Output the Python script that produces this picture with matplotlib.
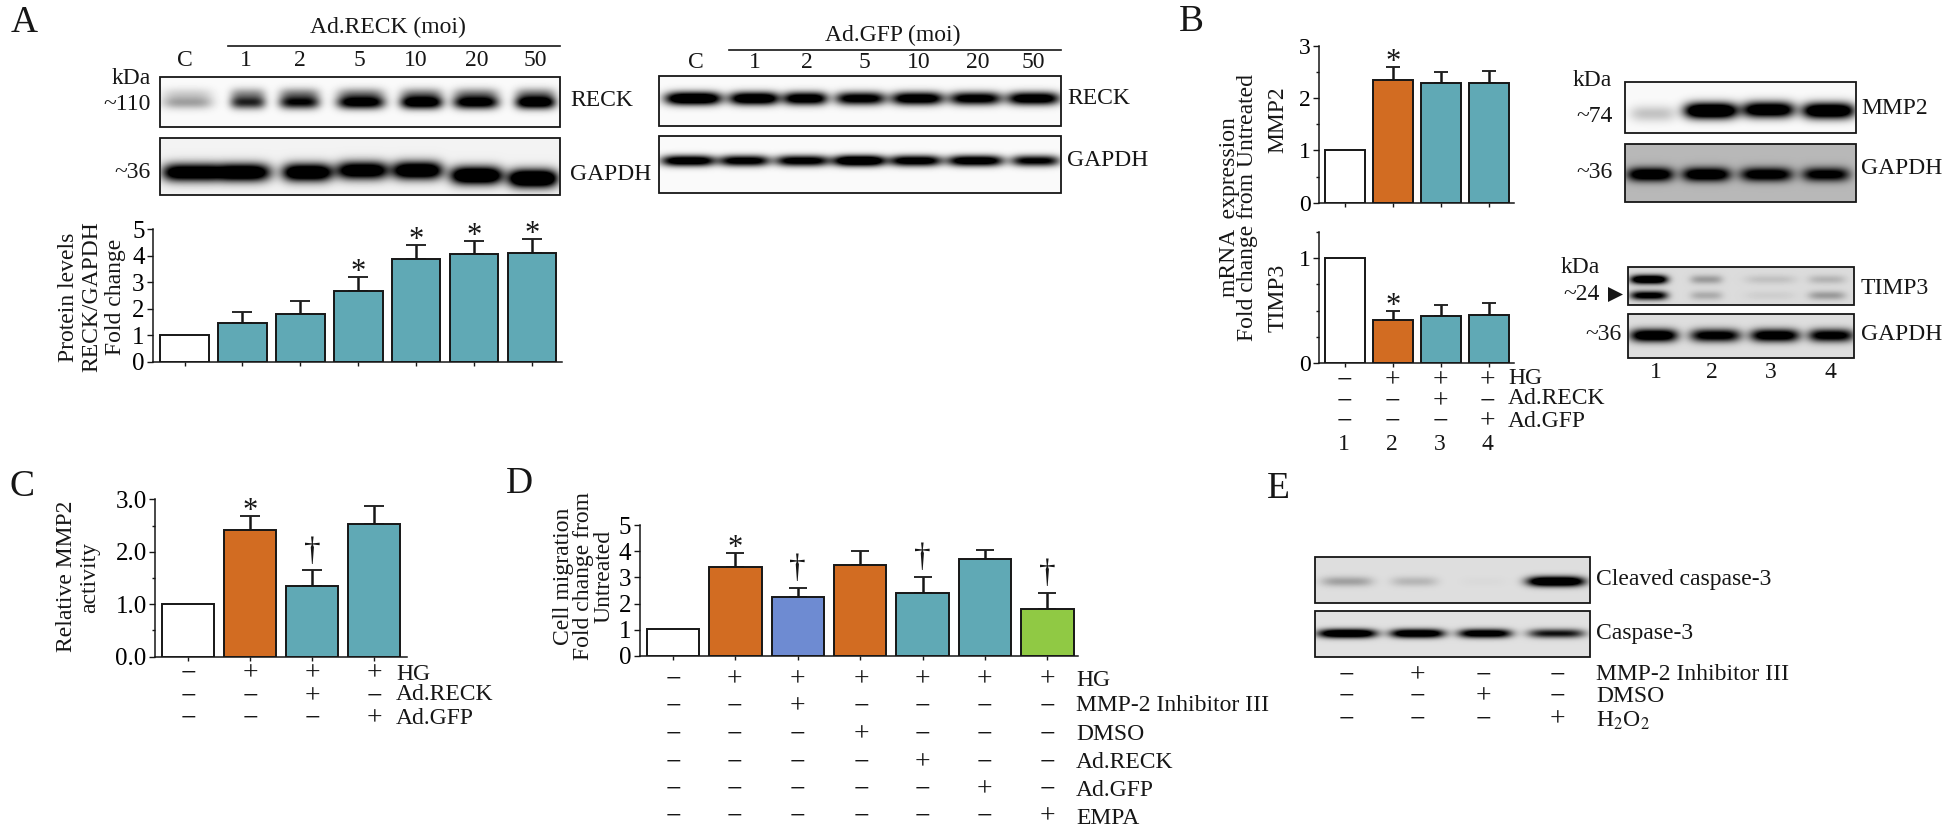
import numpy as np
import matplotlib
matplotlib.use("Agg")
import matplotlib.pyplot as plt
from matplotlib.patches import Rectangle, Polygon
from matplotlib.ticker import MultipleLocator, FormatStrFormatter

plt.rcParams['font.family'] = ['Liberation Serif', 'DejaVu Serif']
plt.rcParams['mathtext.fontset'] = 'stix'

W, H = 1950, 835
TEAL, ORANGE, BLUE, GREEN, WHITE = '#60A9B5', '#D26C22', '#6E8BD2', '#90C944', '#FFFFFF'
INK = '#161616'

# ---------- data ----------
a_vals = [1.0, 1.47, 1.78, 2.66, 3.88, 4.07, 4.08]
a_errs = [0, 0.40, 0.52, 0.53, 0.53, 0.48, 0.55]
a_cols = [WHITE] + [TEAL] * 6
b1_vals = [1.0, 2.35, 2.30, 2.29]
b1_errs = [0, 0.24, 0.21, 0.24]
b2_vals = [1.0, 0.41, 0.445, 0.455]
b2_errs = [0, 0.09, 0.105, 0.12]
bc_cols = [WHITE, ORANGE, TEAL, TEAL]
c_vals = [1.01, 2.42, 1.35, 2.52]
c_errs = [0, 0.26, 0.30, 0.35]
d_vals = [1.03, 3.40, 2.24, 3.47, 2.39, 3.70, 1.81]
d_errs = [0, 0.53, 0.36, 0.53, 0.61, 0.35, 0.58]
d_cols = [WHITE, ORANGE, BLUE, ORANGE, TEAL, TEAL, GREEN]

moi_labels = ['C', '1', '2', '5', '10', '20', '50']
b_rows = {'HG': '-+++', 'Ad.RECK': '--+-', 'Ad.GFP': '---+'}
c_rows = {'HG': '-+++', 'Ad.RECK': '--+-', 'Ad.GFP': '---+'}
d_rows = {'HG': '-++++++', 'MMP-2 Inhibitor III': '--+----', 'DMSO': '---+---',
          'Ad.RECK': '----+--', 'Ad.GFP': '-----+-', 'EMPA': '------+'}
e_rows = {'MMP-2 Inhibitor III': '-+--', 'DMSO': '--+-', r'H$_{2}$O$_{2}$': '---+'}

# band darkness per lane, read from the blots
a_reck = [0.35, 0.85, 1.0, 1.2, 1.3, 1.2, 1.3]
a_gapdh = [1.4, 1.5, 1.5, 1.4, 1.5, 1.6, 1.7]
g_reck = [1.5, 1.4, 1.3, 1.2, 1.3, 1.2, 1.3]
g_gapdh = [1.3, 1.2, 1.2, 1.5, 1.25, 1.3, 1.1]
b_mmp2 = [0.22, 1.6, 1.4, 1.5]
b_gapdh1 = [1.4, 1.4, 1.3, 1.2]
t_upper = [1.5, 0.30, 0.12, 0.18]
t_lower = [1.2, 0.22, 0.06, 0.30]
t_gapdh = [1.4, 1.2, 1.3, 1.2]
e_cleaved = [0.28, 0.18, 0.02, 1.6]
e_casp = [1.5, 1.4, 1.3, 0.95]


def px_axes(l, r, t, b):
    ax = fig.add_axes([l / W, 1 - b / H, (r - l) / W, (b - t) / H])
    ax.patch.set_alpha(0)
    return ax


fig = plt.figure(figsize=(19.5, 8.35), dpi=100, facecolor='white')


def barpanel(rect, c0, step, vals, errs, cols, ymax, major, minor, width, fs=18,
             fmt='%d', lw=1.4, cap=7):
    l, r, t, b = rect
    ax = px_axes(l, r, t, b)
    ax.set_xlim((l - c0) / step, (r - c0) / step)
    ax.set_ylim(0, ymax)
    x = np.arange(len(vals))
    ax.bar(x, vals, width=width, color=cols, edgecolor=INK, linewidth=lw, zorder=3)
    for xi, v, e in zip(x, vals, errs):
        if e > 0:
            ax.errorbar(xi, v, yerr=[[0], [e]], color=INK, capsize=cap, capthick=1.3,
                        elinewidth=1.8, zorder=2)
    for s in ('top', 'right'):
        ax.spines[s].set_visible(False)
    for s in ('left', 'bottom'):
        ax.spines[s].set_linewidth(1.1)
        ax.spines[s].set_color(INK)
    ax.set_xticks(x)
    ax.set_xticklabels([])
    ax.yaxis.set_major_locator(MultipleLocator(major))
    if minor:
        ax.yaxis.set_minor_locator(MultipleLocator(minor))
    ax.yaxis.set_major_formatter(FormatStrFormatter(fmt))
    ax.tick_params(axis='x', length=3, width=1, color=INK)
    ax.tick_params(axis='y', which='major', length=4, width=1, pad=2, labelsize=fs, color=INK)
    ax.tick_params(axis='y', which='minor', length=2.5, width=1, color=INK)
    return ax


def marks(ax, vals, errs, spec, ast=22, dag=24, dag_dy=10):
    for i, ch in spec.items():
        top = vals[i] + errs[i]
        ax.annotate(ch, (i, top), xytext=(0, -3 if ch == '*' else dag_dy),
                    textcoords='offset pixels', ha='center', va='baseline',
                    fontsize=ast if ch == '*' else dag, color=INK,
                    annotation_clip=False, zorder=5)


ax = barpanel((153, 562, 229, 361.7), 184.5, 57.9, a_vals, a_errs, a_cols, 5, 1, None, 0.84, cap=7)
marks(ax, a_vals, a_errs, {3: '*', 4: '*', 5: '*', 6: '*'})

ax = barpanel((1319, 1514, 46, 202.7), 1345, 48.0, b1_vals, b1_errs, bc_cols, 3, 1, 0.5, 0.85, fs=17, cap=5)
marks(ax, b1_vals, b1_errs, {1: '*'})

ax = barpanel((1319, 1514, 231.7, 363.3), 1345, 48.0, b2_vals, b2_errs, bc_cols, 1.25, 1, 0.25, 0.85, fs=17, cap=5)
marks(ax, b2_vals, b2_errs, {1: '*'})

ax = barpanel((155, 407, 499.3, 656.7), 188, 62.0, c_vals, c_errs, bc_cols, 3, 1, 0.5, 0.85, fs=18, fmt='%.1f')
marks(ax, c_vals, c_errs, {1: '*', 2: '\u2020'})

ax = barpanel((639.5, 1078, 525, 656), 673, 62.4, d_vals, d_errs, d_cols, 5, 1, None, 0.84, fs=18, cap=6.5)
marks(ax, d_vals, d_errs, {1: '*', 2: '\u2020', 4: '\u2020', 6: '\u2020'}, dag=24, dag_dy=11)

# ---------- canvas in figure pixels for blots and annotations ----------
cv = fig.add_axes([0, 0, 1, 1], zorder=10)
cv.set_xlim(0, W)
cv.set_ylim(H, 0)
cv.axis('off')
cv.patch.set_alpha(0)


def T(x, y, s, fs=17, ha='left', va='center', **kw):
    cv.text(x, y, s, fontsize=fs, ha=ha, va=va, color=INK, **kw)


def blot(box, lanes, dark, yc, sy, bg=0.98, smear=0.0, ycs=None, extra=None):
    x0, x1, y0, y1 = box
    X, Y = np.meshgrid(np.arange(x0, x1, 1.0), np.arange(y0, y1, 1.0))
    d = np.zeros_like(X)
    layers = [(dark, yc, ycs)]
    if extra is not None:
        layers.append((extra[0], extra[1], None))
    for dk, yc0, yl in layers:
        for k, ((a, b), v) in enumerate(zip(lanes, dk)):
            c, hw = (a + b) / 2, (b - a) / 2
            yy = yc0 if yl is None else yl[k]
            px = np.exp(-np.abs((X - c) / hw) ** 4)
            d += v * px * np.exp(-((Y - yy) / sy) ** 2)
            if smear:
                d += smear * min(v, 1) * px * np.exp(-((Y - yy + 9) / 6) ** 2)
    img = bg * (1 - np.clip(d, 0, 1))
    cv.imshow(img, extent=(x0, x1, y1, y0), cmap='gray', vmin=0, vmax=1, aspect='auto',
              interpolation='bilinear', zorder=1)
    cv.add_patch(Rectangle((x0, y0), x1 - x0, y1 - y0, fill=False, ec=INK, lw=1.3, zorder=2))


lanes_a1 = [(162, 212), (230, 265), (279, 319), (337, 384), (400, 442), (453, 498), (515, 555)]
lanes_a2 = [(162, 214), (210, 270), (282, 332), (336, 388), (392, 442), (450, 502), (508, 557)]
lanes_g1 = [(665, 721), (729, 779), (783, 827), (835, 885), (891, 943), (949, 1001), (1007, 1059)]
lanes_g2 = [(661, 715), (719, 769), (775, 829), (833, 885), (889, 941), (947, 1003), (1011, 1059)]
blot((160, 560, 77, 127), lanes_a1, a_reck, 102, 6.5, smear=0.4)
blot((160, 560, 138, 195), lanes_a2, a_gapdh, 172, 9,
     ycs=[172, 172, 172, 170, 170, 175, 178], bg=0.95)
blot((659, 1061, 76, 126), lanes_g1, g_reck, 98, 6.5)
blot((659, 1061, 135.7, 192.7), lanes_g2, g_gapdh, 160, 5.5)
lanes_m = [(1630, 1675), (1684, 1737), (1742, 1794), (1802, 1854)]
lanes_bg = [(1627, 1673), (1682, 1730), (1740, 1792), (1802, 1849)]
lanes_t = [(1630, 1667), (1690, 1722), (1745, 1795), (1808, 1845)]
lanes_tg = [(1630, 1677), (1690, 1740), (1750, 1799), (1808, 1853)]
blot((1625, 1856, 81.7, 133), lanes_m, b_mmp2, 111, 8, ycs=[114, 111, 110, 111])
blot((1625, 1856, 144, 201.7), lanes_bg, b_gapdh1, 174, 7, bg=0.72)
blot((1628, 1854, 267, 305), lanes_t, t_upper, 279, 4.5, bg=0.86, extra=(t_lower, 295))
blot((1628, 1854, 314, 358), lanes_tg, t_gapdh, 335, 6.5, bg=0.87)
lanes_e = [(1321, 1372), (1391, 1437), (1460, 1506), (1527, 1584)]
lanes_e2 = [(1318, 1376), (1390, 1444), (1458, 1511), (1528, 1584)]
blot((1315, 1590, 557, 603), lanes_e, e_cleaved, 581, 5, bg=0.87)
blot((1315, 1590, 611, 656.7), lanes_e2, e_casp, 633, 4.5, bg=0.88)
cv.add_patch(Polygon([[1608, 287], [1608, 302], [1623, 294.5]], closed=True, fc=INK, ec='none', zorder=4))

# panel letters
for x, y, s in [(24, 22.5, 'A'), (1191, 22, 'B'), (22, 487, 'C'), (519, 484, 'D'), (1278, 489, 'E')]:
    T(x, y, s, fs=27, ha='center')

# panel A annotations
T(388, 27, 'Ad.RECK (moi)', ha='center')
cv.plot([228, 560], [45.7, 45.7], color=INK, lw=1.2)
for x, s in zip([185, 245.5, 299.5, 359, 416, 477, 535], moi_labels):
    T(x, 60, s, ha='center')
T(151, 78, 'kDa', ha='right')
T(151, 104, '~110', ha='right')
T(151, 172, '~36', ha='right')
T(570, 100, 'RECK')
T(570, 175, 'GAPDH')
for x, s in [(68, 'Protein levels'), (92, 'RECK/GAPDH'), (115, 'Fold change')]:
    T(x, 297, s, fs=17, ha='center', rotation=90)

T(893, 35, 'Ad.GFP (moi)', ha='center')
cv.plot([729, 1061], [50, 50], color=INK, lw=1.2)
for x, s in zip([696, 755, 807, 864, 919, 978, 1033], moi_labels):
    T(x, 63, s, ha='center')
T(1067, 99, 'RECK')
T(1067, 160, 'GAPDH')


def rows(xs, ys, label_x, label_ys, table, fs=17):
    for y, ly, (name, signs) in zip(ys, label_ys, table.items()):
        for x, s in zip(xs, signs):
            T(x, y, '+' if s == '+' else '\u2212', fs=20, ha='center')
        T(label_x, ly, name, fs=fs)


# panel B annotations
T(1229, 207.5, 'mRNA  expression', fs=17, ha='center', rotation=90)
T(1247, 207.5, 'Fold change from Untreated', fs=17, ha='center', rotation=90)
T(1278, 120, 'MMP2', fs=17, ha='center', rotation=90)
T(1278, 297.5, 'TIMP3', fs=17, ha='center', rotation=90)
bx = [1344, 1392, 1440, 1487]
rows(bx, [381, 402, 422], 1508, [379, 399, 421.7], b_rows)
for x, s in zip(bx, ['1', '2', '3', '4']):
    T(x, 445, s, ha='center')
T(1592, 80, 'kDa', ha='center')
T(1613, 116.7, '~74', ha='right')
T(1613, 173, '~36', ha='right')
T(1861, 108, 'MMP2')
T(1861, 168, 'GAPDH')
T(1580, 267.7, 'kDa', ha='center')
T(1600, 294, '~24', ha='right')
T(1622, 334, '~36', ha='right')
T(1861, 289, 'TIMP3')
T(1861, 335, 'GAPDH')
for x, s in zip([1656, 1712, 1771, 1830], ['1', '2', '3', '4']):
    T(x, 373, s, ha='center')

# panel C annotations
T(66.5, 576.7, 'Relative MMP2', fs=17, ha='center', rotation=90)
T(89.5, 577.5, 'activity', fs=17, ha='center', rotation=90)
rows([188, 250, 312, 374.5], [674, 696.7, 719], 396, [675, 695, 718], c_rows)

# panel D annotations
T(564, 576.7, 'Cell migration', fs=17, ha='center', rotation=90)
T(583.5, 575.8, 'Fold change from', fs=17, ha='center', rotation=90)
T(603.5, 576.7, 'Untreated', fs=17, ha='center', rotation=90)
rows([673, 734, 797, 861, 922, 984.5, 1047.5], [680, 706.7, 735, 763, 790, 817], 1076,
     [680, 705.7, 734, 762, 790, 818.5], d_rows)

# panel E annotations
T(1596, 579, 'Cleaved caspase-3')
T(1596, 634, 'Caspase-3')
rows([1346.5, 1417, 1483, 1557.5], [675.7, 697, 720], 1596, [674, 696.7, 720.7], e_rows)

cv.set_xlim(0, W)
cv.set_ylim(H, 0)
fig.savefig('out.png', dpi=100, facecolor='white')
